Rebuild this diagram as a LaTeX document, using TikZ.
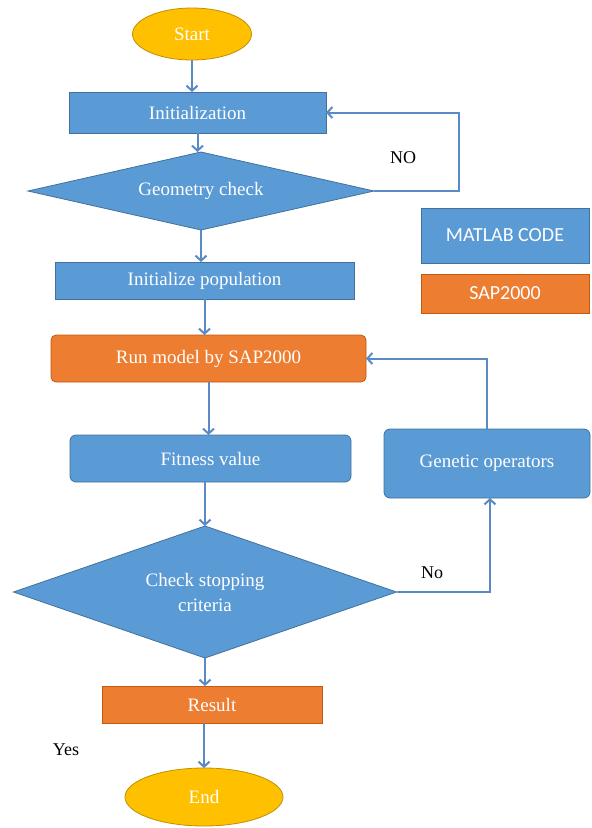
\documentclass[tikz,border=0pt]{standalone}
\usepackage{fontspec}
\setmainfont{Liberation Serif}
\newfontfamily\legendfont{Carlito}
\usepackage{xcolor}
\usepackage{tikz}
\usetikzlibrary{shapes.geometric,arrows.meta}

\definecolor{boxblue}{HTML}{5B9BD5}
\definecolor{edgeblue}{HTML}{41719C}
\definecolor{boxorange}{HTML}{ED7D31}
\definecolor{edgeorange}{HTML}{C55A11}
\definecolor{termgold}{HTML}{FFC000}
\definecolor{edgegold}{HTML}{BF9000}
\definecolor{lineblue}{HTML}{5A8AC6}

\begin{document}
\begin{tikzpicture}[x=1pt, y=-1pt,
    every node/.style={font=\fontsize{19}{25}\selectfont, inner sep=0pt, outer sep=0pt},
    block/.style={rectangle, draw=edgeblue, fill=boxblue, text=white, line width=0.8pt},
    roundblock/.style={block, rounded corners=6pt},
    sapblock/.style={rectangle, draw=edgeorange, fill=boxorange, text=white, line width=0.8pt},
    decision/.style={diamond, draw=edgeblue, fill=boxblue, text=white, line width=0.8pt, align=center},
    terminal/.style={ellipse, draw=edgegold, fill=termgold, text=white, line width=0.8pt},
    legend/.style={font=\legendfont\fontsize{20}{24}\selectfont},
    arrow/.style={-{Straight Barb[length=5pt,width=11pt]}, line width=2pt, draw=lineblue},
    tag/.style={text=black, font=\fontsize{18}{22}\selectfont}
]
    \useasboundingbox (0,0) rectangle (592,828);

    \node[terminal, minimum width=119pt, minimum height=52pt] (start) at (192,34) {Start};
    \node[block, minimum width=257pt, minimum height=41pt] (init) at (197.5,112.5) {Initialization};
    \node[decision, shape aspect=4.4, minimum width=346pt, minimum height=78pt] (geo) at (201,191) {Geometry check};
    \node[block, minimum width=299pt, minimum height=37pt] (pop) at (204.5,280.5) {Initialize population};
    \node[sapblock, rounded corners=5pt, minimum width=315pt, minimum height=47pt] (run) at (208.5,358.5) {Run model by SAP2000};
    \node[roundblock, minimum width=281pt, minimum height=47pt] (fit) at (210.5,458.5) {Fitness value};
    \node[decision, shape aspect=2.9, minimum width=383pt, minimum height=132pt] (chk) at (205,592) {Check stopping\\criteria};
    \node[sapblock, minimum width=220pt, minimum height=37pt] (res) at (212,704.5) {Result};
    \node[terminal, minimum width=158pt, minimum height=58pt] (end) at (204,797) {End};

    % legend
    \node[block, legend, minimum width=168pt, minimum height=55pt] (matlab) at (505,235.5) {MATLAB CODE};
    \node[sapblock, legend, minimum width=168pt, minimum height=39pt] (sap) at (505,293.5) {SAP2000};

    \node[roundblock, minimum width=206pt, minimum height=69pt] (gen) at (487,463.5) {Genetic operators};

    \node[tag] (nolabel) at (403,158) {NO};
    \node[tag] (nolabel2) at (432,573) {No};
    \node[tag] (yeslabel) at (66,750) {Yes};

    \coordinate (geoturn) at (459,191);
    \coordinate (chkturn) at (490,592);

    \draw[arrow] (start) -- (start |- init.north);
    \draw[arrow] (init) -- (init |- geo.north);
    \draw[arrow] (geo) -- (geo |- pop.north);
    \draw[arrow] (pop) -- (pop |- run.north);
    \draw[arrow] (run) -- (run |- fit.north);
    \draw[arrow] (chk.north |- fit.south) -- (chk.north);
    \draw[arrow] (chk) -- (chk |- res.north);
    \draw[arrow] (end |- res.south) -- (end.north);

    \draw[arrow] (geo.east) -- (geoturn) |- (init.east);
    \draw[arrow] (chk.east) -- (chkturn) -- (chkturn |- gen.south);
    \draw[arrow] (gen.north) |- (run.east);
\end{tikzpicture}
\end{document}
